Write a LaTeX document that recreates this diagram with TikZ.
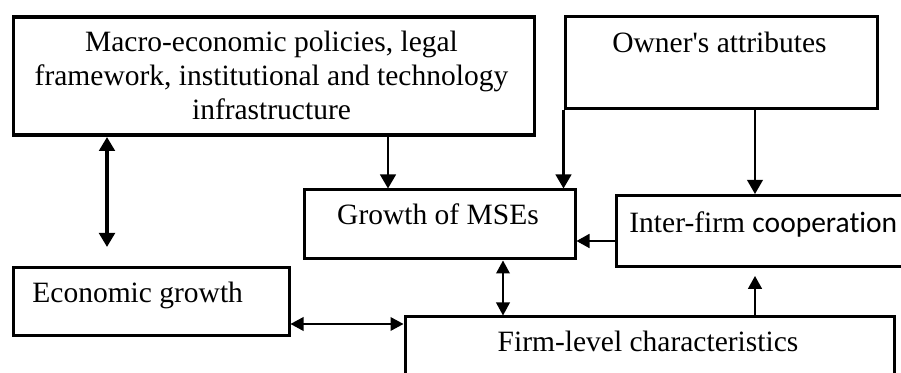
\documentclass[tikz,border=0pt]{standalone}
\usepackage{fontspec}
\setmainfont{Liberation Serif}
\newfontfamily\rawserif{Liberation Serif}
\newfontfamily\calib[Ligatures=NoCommon]{Carlito}
\usetikzlibrary{arrows.meta}
\begin{document}
\begin{tikzpicture}[x=0.5pt,y=-0.5pt,
  box/.style={draw, line width=1.5pt, inner sep=0pt, anchor=north west},
  thickbox/.style={box, line width=1.75pt},
  txt/.style={inner sep=0pt, font=\fontsize{14.75}{17}\selectfont, align=center},
  tipbig/.style={-{Triangle[length=7pt,width=7.8pt]}},
  tipmid/.style={-{Triangle[length=6.5pt,width=7pt]}},
  bothbig/.style={{Triangle[length=7pt,width=7.8pt]}-{Triangle[length=7pt,width=7.8pt]}},
  bothmid/.style={{Triangle[length=6.5pt,width=6.8pt]}-{Triangle[length=6.5pt,width=6.8pt]}},
  heavy/.style={line width=1.6pt},
  medium/.style={line width=1.2pt},
  light/.style={line width=0.85pt}]
\clip (0,0) rectangle (901,373);
\fill[white] (0,0) rectangle (901,373);
% boxes
\node[thickbox, minimum width=260.5pt, minimum height=59pt] (macro) at (11.5,15.5) {};
\node[box, minimum width=156pt, minimum height=46pt] (owner) at (563.5,15.5) {};
\node[box, minimum width=135.5pt, minimum height=34.5pt] (growth) at (302.5,188.5) {};
\node[box, minimum width=160pt, minimum height=35.5pt] (inter) at (614.5,194) {};
\node[box, minimum width=138pt, minimum height=34pt] (econ) at (11.5,266.5) {};
\node[box, minimum width=244.5pt, minimum height=60pt] (firm) at (403.5,315.5) {};
% texts
\node[txt, anchor=base] (macroT) at (271.5,120) {Macro-economic policies, legal\\framework, institutional and technology\\infrastructure};
\node[txt, anchor=base] (ownerT) at (719.5,53) {Owner{\rawserif '}s attributes};
\node[txt, anchor=base] (growthT) at (438,225) {Growth of MSEs};
\node[txt, anchor=base west] (interT) at (629,233) {Inter-firm {\calib cooperation}};
\node[txt, anchor=base west] (econT) at (32,303) {Economic growth};
\node[txt, anchor=base] (firmT) at (648,352) {Firm-level characteristics};
% helper coordinates
\coordinate (c1) at (107,247);
\coordinate (c2) at (388,0);
\coordinate (c3) at (755,0);
\coordinate (c4) at (0,241);
\coordinate (c5) at (503,0);
\coordinate (c6) at (755,276);
\coordinate (c7) at (0,324);
% connectors
\draw[heavy, bothbig] (c1 |- macro.south) -- (c1);
\draw[medium, tipbig] (c2 |- macro.south) -- (c2 |- growth.north);
\draw[medium, tipbig] (owner.south west) -- (owner.south west |- growth.north);
\draw[light, tipbig] (c3 |- owner.south) -- (c3 |- inter.north);
\draw[light, tipmid] (inter.west |- c4) -- (growth.east |- c4);
\draw[light, bothmid] (c5 |- growth.south) -- (c5 |- firm.north);
\draw[light, tipmid] (firm.north -| c6) -- (c6);
\draw[light, bothmid] (econ.east |- c7) -- (firm.west |- c7);
\end{tikzpicture}
\end{document}
